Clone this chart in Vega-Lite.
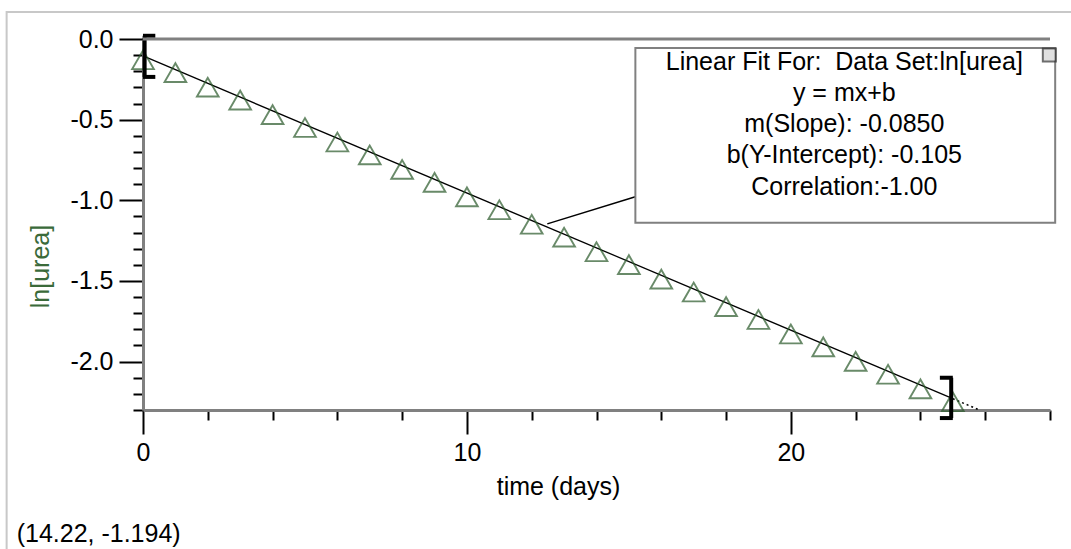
{
  "$schema": "https://vega.github.io/schema/vega-lite/v6.json",
  "width": 907,
  "height": 371,
  "autosize": {"type": "none"},
  "padding": {"left": 143, "top": 39, "right": 21, "bottom": 139},
  "background": "white",
  "config": {
    "view": {"stroke": null},
    "font": "Liberation Sans",
    "locale": {"number": {"decimal": ".", "thousands": ",", "grouping": [3], "currency": ["$", ""], "minus": "-"}}
  },
  "datasets": {
    "points": [
      {"t": 0, "v": -0.11}, {"t": 1, "v": -0.19}, {"t": 2, "v": -0.28}, {"t": 3, "v": -0.36},
      {"t": 4, "v": -0.45}, {"t": 5, "v": -0.53}, {"t": 6, "v": -0.62}, {"t": 7, "v": -0.70},
      {"t": 8, "v": -0.79}, {"t": 9, "v": -0.87}, {"t": 10, "v": -0.96}, {"t": 11, "v": -1.04},
      {"t": 12, "v": -1.13}, {"t": 13, "v": -1.21}, {"t": 14, "v": -1.30}, {"t": 15, "v": -1.38},
      {"t": 16, "v": -1.47}, {"t": 17, "v": -1.55}, {"t": 18, "v": -1.64}, {"t": 19, "v": -1.72},
      {"t": 20, "v": -1.81}, {"t": 21, "v": -1.89}, {"t": 22, "v": -1.98}, {"t": 23, "v": -2.06},
      {"t": 24, "v": -2.15}, {"t": 25, "v": -2.23}
    ],
    "fit": [{"t": 0, "v": -0.105}, {"t": 25, "v": -2.23}],
    "fitext": [{"t": 25, "v": -2.23}, {"t": 25.8, "v": -2.298}],
    "frame": [{"t": -4.21, "t2": 36, "v": 0.167, "v2": -4.5}],
    "box": [{"t": 15.2, "t2": 28.16, "v": -0.056, "v2": -1.139}],
    "connector": [{"t": 12.48, "v": -1.146}, {"t": 15.2, "v": -0.978}],
    "boxtext": [
      {"t": 21.65, "v": -0.142, "label": "Linear Fit For:\u00a0 Data Set:ln[urea]"},
      {"t": 21.65, "v": -0.335, "label": "y = mx+b"},
      {"t": 21.65, "v": -0.53, "label": "m(Slope): -0.0850"},
      {"t": 21.65, "v": -0.722, "label": "b(Y-Intercept): -0.105"},
      {"t": 21.65, "v": -0.915, "label": "Correlation:-1.00"}
    ],
    "square": [{"t": 27.98, "v": -0.099}],
    "brackets": [
      {"t": 0.05, "t2": 0.05, "v": 0.02, "v2": -0.235},
      {"t": 0.0, "t2": 0.38, "v": 0.02, "v2": 0.02},
      {"t": 0.0, "t2": 0.38, "v": -0.235, "v2": -0.235},
      {"t": 24.95, "t2": 24.95, "v": -2.10, "v2": -2.35},
      {"t": 24.6, "t2": 25.0, "v": -2.10, "v2": -2.10},
      {"t": 24.6, "t2": 25.0, "v": -2.35, "v2": -2.35}
    ],
    "coord": [{"t": -3.9, "v": -3.07, "label": "(14.22, -1.194)"}]
  },
  "encoding": {
    "x": {
      "field": "t", "type": "quantitative",
      "scale": {"domain": [0, 28], "nice": false, "zero": false},
      "axis": {
        "orient": "bottom",
        "values": [0, 2, 4, 6, 8, 10, 12, 14, 16, 18, 20, 22, 24, 26, 28],
        "labelExpr": "datum.value % 10 === 0 ? datum.label : ''",
        "domainColor": "#808080", "domainWidth": 3,
        "tickColor": "black", "tickWidth": 2,
        "tickSize": {"condition": {"test": "datum.value % 10 === 0", "value": 24}, "value": 10},
        "labelPadding": 6,
        "labelFontSize": 25, "labelColor": "black", "labelFont": "Liberation Sans",
        "labelFlush": false, "labelOverlap": false,
        "grid": false,
        "title": "time (days)", "titleFontSize": 25, "titleFontWeight": "normal", "titleColor": "black",
        "titleFont": "Liberation Sans",
        "titleX": 415, "titleY": 76, "titleAlign": "center", "titleBaseline": "middle"
      }
    },
    "y": {
      "field": "v", "type": "quantitative",
      "scale": {"domain": [-2.3, 0], "nice": false, "zero": false},
      "axis": {
        "orient": "left",
        "values": [0, -0.1, -0.2, -0.3, -0.4, -0.5, -0.6, -0.7, -0.8, -0.9, -1.0, -1.1, -1.2, -1.3, -1.4, -1.5, -1.6, -1.7, -1.8, -1.9, -2.0, -2.1, -2.2, -2.3],
        "labelExpr": "abs(datum.value * 2 - round(datum.value * 2)) < 0.001 ? replace(format(datum.value, '.1f'), '\u2212', '-') : ''",
        "domainColor": "#808080", "domainWidth": 3,
        "tickColor": "black", "tickWidth": 2,
        "tickSize": {"condition": {"test": "abs(datum.value * 2 - round(datum.value * 2)) < 0.001", "value": 24}, "value": 10},
        "labelPadding": 6,
        "labelFontSize": 25, "labelColor": "black", "labelFont": "Liberation Sans",
        "labelFlush": false, "labelOverlap": false,
        "grid": false,
        "title": "ln[urea]", "titleFontSize": 25, "titleFontWeight": "normal", "titleColor": "#3a6a3a",
        "titleFont": "Liberation Sans",
        "titleX": -103, "titleY": 227, "titleAlign": "center", "titleBaseline": "middle", "titleAngle": -90
      }
    }
  },
  "layer": [
    {
      "data": {"name": "frame"},
      "mark": {"type": "rect", "fill": null, "stroke": "#c8c8c8", "strokeWidth": 2, "clip": false},
      "encoding": {"x2": {"field": "t2"}, "y2": {"field": "v2"}}
    },
    {
      "data": {"name": "fit"},
      "mark": {"type": "line", "color": "black", "strokeWidth": 1.3}
    },
    {
      "data": {"name": "fitext"},
      "mark": {"type": "line", "color": "black", "strokeWidth": 1.5, "strokeDash": [2, 3], "clip": false}
    },
    {
      "data": {"name": "points"},
      "mark": {"type": "point", "shape": "triangle-up", "size": 470, "filled": false, "stroke": "#2a5a2a", "strokeWidth": 1.9, "yOffset": 3, "clip": false}
    },
    {
      "data": {"name": "connector"},
      "mark": {"type": "line", "color": "black", "strokeWidth": 1.5}
    },
    {
      "data": {"name": "box"},
      "mark": {"type": "rect", "fill": "white", "stroke": "#808080", "strokeWidth": 2, "clip": false},
      "encoding": {"x2": {"field": "t2"}, "y2": {"field": "v2"}}
    },
    {
      "data": {"name": "boxtext"},
      "mark": {"type": "text", "fontSize": 25, "font": "Liberation Sans", "color": "black", "align": "center", "baseline": "middle", "clip": false},
      "encoding": {"text": {"field": "label"}}
    },
    {
      "data": {"name": "square"},
      "mark": {"type": "point", "shape": "square", "size": 170, "filled": true, "fill": "#d4d4d4", "stroke": "#303030", "strokeWidth": 2, "clip": false}
    },
    {
      "data": {"name": "brackets"},
      "mark": {"type": "rule", "color": "black", "strokeWidth": 4, "clip": false},
      "encoding": {"x2": {"field": "t2"}, "y2": {"field": "v2"}}
    },
    {
      "data": {"name": "coord"},
      "mark": {"type": "text", "fontSize": 25, "font": "Liberation Sans", "color": "black", "align": "left", "baseline": "middle", "clip": false},
      "encoding": {"text": {"field": "label"}}
    },
    {
      "data": {"values": [{"v": 0}]},
      "mark": {"type": "rule", "color": "#808080", "strokeWidth": 3},
      "encoding": {"x": {"value": 0}, "x2": {"value": 907}}
    }
  ]
}
